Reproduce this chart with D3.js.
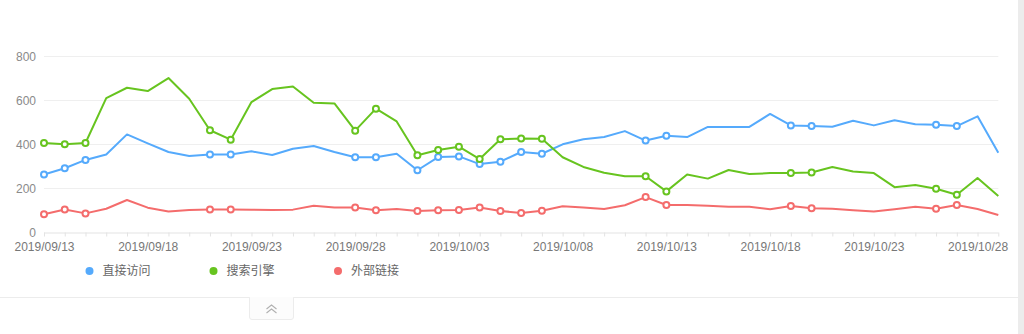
<!DOCTYPE html>
<html>
<head>
<meta charset="utf-8">
<script src="https://cdn.jsdelivr.net/npm/d3@7/dist/d3.min.js"></script>
<style>
  html, body { margin: 0; padding: 0; background: #fff; }
  body { width: 1024px; height: 334px; overflow: hidden; position: relative; }
  svg { display: block; }
</style>
</head>
<body>
<svg id="chart" width="1024" height="334"></svg>
<script>
// Daily traffic by source, 2019/09/13 – 2019/10/29
const startDate = "2019/09/13";
const dayCount = 47;
const seriesNames = ["直接访问", "搜索引擎", "外部链接"];
const seriesColors = ["#55aafc", "#67c41f", "#f46c6c"];
const direct = [263, 291, 329, 354, 445, 404, 365, 347, 354, 354, 368, 351, 380, 392, 365, 341, 341, 357, 282, 342, 345, 310, 321, 365, 357, 400, 423, 433, 460, 417, 439, 433, 479, 479, 479, 538, 486, 483, 480, 507, 486, 509, 491, 489, 483, 527, 362];
const search = [406, 400, 406, 610, 657, 642, 701, 607, 464, 421, 592, 651, 663, 589, 586, 462, 562, 504, 350, 374, 389, 333, 423, 426, 425, 341, 297, 271, 255, 255, 186, 263, 244, 283, 265, 269, 270, 272, 297, 276, 269, 205, 215, 198, 171, 247, 165];
const external = [82, 104, 86, 107, 147, 112, 95, 101, 104, 104, 103, 101, 103, 121, 113, 113, 100, 106, 97, 100, 101, 113, 97, 88, 98, 118, 113, 106, 123, 160, 124, 124, 121, 116, 116, 105, 120, 109, 107, 100, 95, 105, 116, 107, 124, 106, 79];
// Holidays and weekends get a hollow marker on every line
const markedDays = [0, 1, 2, 8, 9, 15, 16, 18, 19, 20, 21, 22, 23, 24, 29, 30, 36, 37, 43, 44];
const yTicks = [0, 200, 400, 600, 800];
const labelEvery = 5;

const parse = d3.timeParse("%Y/%m/%d");
const fmt = d3.timeFormat("%Y/%m/%d");
const dates = d3.range(dayCount).map(i => d3.timeDay.offset(parse(startDate), i));
const series = [direct, search, external];

const numFont = "'Liberation Sans', 'Noto Sans CJK SC', sans-serif";
const cjkFont = "'Microsoft YaHei', 'Noto Sans CJK SC', sans-serif";
const svg = d3.select("#chart");

const x = d3.scaleTime().domain([dates[0], dates[dayCount - 1]]).range([44, 998.3]);
const y = d3.scaleLinear().domain([0, 800]).range([232.3, 56.3]);

// right-hand scrollbar strip and lower toolbar divider
svg.append("rect").attr("x", 1018).attr("y", 0).attr("width", 6).attr("height", 334).attr("fill", "#ececec");
svg.append("line").attr("x1", 0).attr("x2", 1018).attr("y1", 297.5).attr("y2", 297.5)
  .attr("stroke", "#ececec").attr("stroke-width", 1);

// collapse tab
const tab = svg.append("g");
tab.append("path")
  .attr("d", "M249.5,297.5 V317 a2.5,2.5 0 0 0 2.5,2.5 H291 a2.5,2.5 0 0 0 2.5,-2.5 V297.5")
  .attr("fill", "#fcfcfc").attr("stroke", "#ececec");
tab.append("line").attr("x1", 250).attr("x2", 293).attr("y1", 297.5).attr("y2", 297.5).attr("stroke", "#fcfcfc").attr("stroke-width", 1.2);
[305, 309].forEach(cy => {
  tab.append("path").attr("d", `M266.5,${cy + 4} L271.5,${cy} L276.5,${cy + 4}`)
    .attr("fill", "none").attr("stroke", "#b0b0b0").attr("stroke-width", 1.1);
});

// horizontal grid
svg.append("g").selectAll("line").data(yTicks.filter(v => v > 0)).join("line")
  .attr("x1", 44).attr("x2", 998.3)
  .attr("y1", d => Math.round(y(d)) + 0.5).attr("y2", d => Math.round(y(d)) + 0.5)
  .attr("stroke", "#efefef").attr("stroke-width", 1);

// y axis labels
const yAxis = d3.axisLeft(y).tickValues(yTicks).tickSize(0).tickPadding(8);
const gy = svg.append("g").attr("transform", "translate(44,0)").call(yAxis);
gy.select(".domain").remove();
gy.selectAll("text").attr("fill", "#8a8a8a").style("font-family", numFont).style("font-size", "12px")
  .attr("dy", "0.34em");

// x axis: a tick every day, a label every five days
const xAxis = d3.axisBottom(x).tickValues(dates).tickSize(4).tickPadding(6)
  .tickFormat((d, i) => i % labelEvery === 0 && i < dayCount - 1 ? fmt(d) : "");
const gx = svg.append("g").attr("transform", "translate(0,232.5)").call(xAxis);
gx.select(".domain").attr("stroke", "#e3e3e3").attr("d", "M44,0.5H998.3");
gx.selectAll(".tick line").attr("stroke", "#e3e3e3");
gx.selectAll("text").attr("fill", "#777").style("font-family", numFont).style("font-size", "12px");

// lines and markers
const line = d3.line().x((d, i) => x(dates[i])).y(d => y(d));
series.forEach((vals, s) => {
  svg.append("path").datum(vals).attr("d", line)
    .attr("fill", "none").attr("stroke", seriesColors[s]).attr("stroke-width", 2)
    .attr("stroke-linejoin", "round");
});
series.forEach((vals, s) => {
  svg.append("g").selectAll("circle").data(markedDays).join("circle")
    .attr("cx", i => x(dates[i])).attr("cy", i => y(vals[i])).attr("r", 3)
    .attr("fill", "#fff").attr("stroke", seriesColors[s]).attr("stroke-width", 2);
});

// legend
const legendX = [89.5, 213.5, 338];
const lg = svg.append("g");
seriesNames.forEach((name, s) => {
  lg.append("circle").attr("cx", legendX[s]).attr("cy", 271).attr("r", 4).attr("fill", seriesColors[s]);
  lg.append("text").attr("x", legendX[s] + 13).attr("y", 271).attr("dy", "0.35em")
    .attr("fill", "#666").style("font-family", cjkFont).style("font-size", "12px").text(name);
});
</script>
</body>
</html>
